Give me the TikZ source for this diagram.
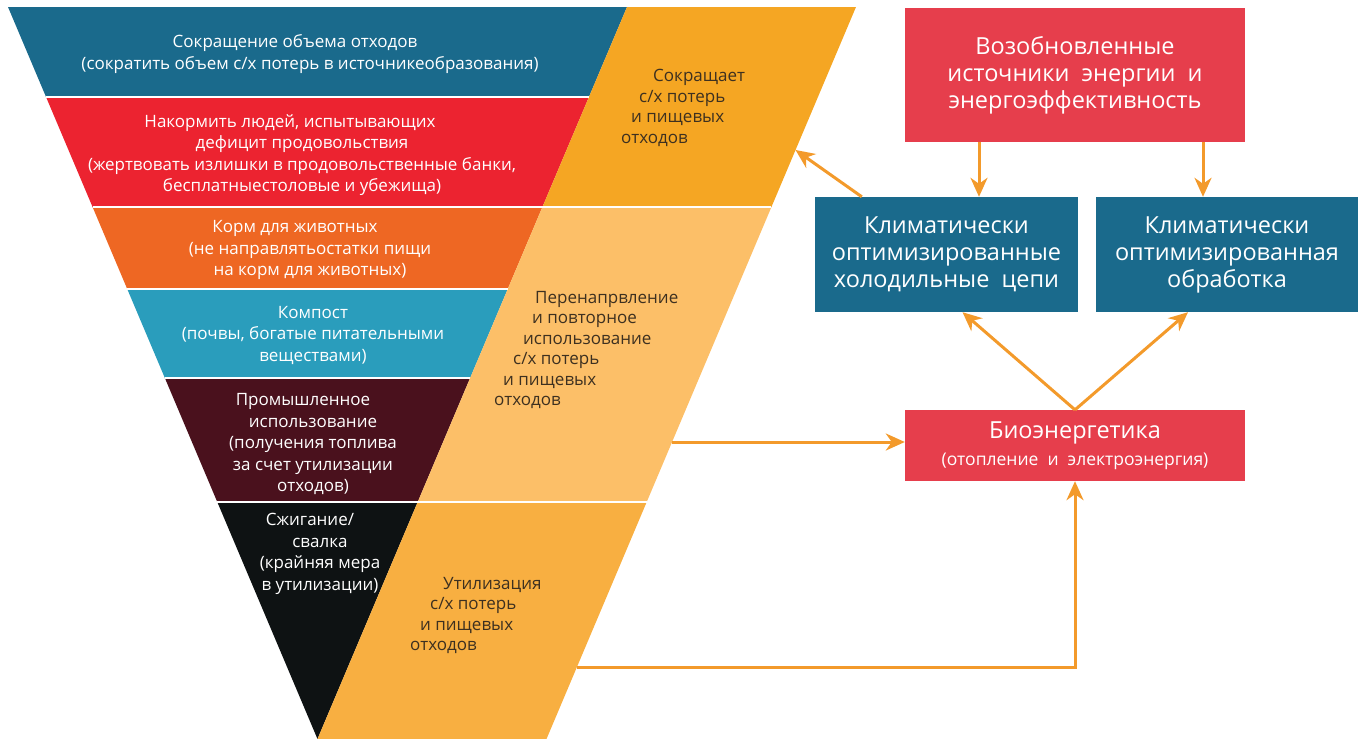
\documentclass[tikz,border=0pt]{standalone}
\usepackage{fontspec}
\setmainfont{Open Sans}
\usetikzlibrary{arrows.meta}
\definecolor{bandA}{HTML}{1A6A8C}
\definecolor{bandB}{HTML}{EC2330}
\definecolor{bandC}{HTML}{EE6723}
\definecolor{bandD}{HTML}{2A9DBC}
\definecolor{bandE}{HTML}{4A111D}
\definecolor{bandF}{HTML}{0E1213}
\definecolor{orA}{HTML}{F5A623}
\definecolor{orB}{HTML}{FCBF68}
\definecolor{orC}{HTML}{F8AF41}
\definecolor{sidetext}{HTML}{3D3020}
\definecolor{boxred}{HTML}{E63E4C}
\definecolor{boxblue}{HTML}{1A6A8C}
\definecolor{arrowc}{HTML}{F39A2B}
\tikzset{
  bandtext/.style={text=white, align=center, inner sep=0pt, font=\fontsize{17}{21.5}\selectfont},
  sidetxt/.style={text=sidetext, align=left, anchor=north west, inner sep=0pt, font=\fontsize{17}{20.5}\selectfont},
  bigbox/.style={rectangle, text=white, align=center, inner sep=0pt, font=\fontsize{23.5}{27}\selectfont},
  arr/.style={draw=arrowc, line width=3pt, -{Stealth[length=19pt,width=17pt,inset=6pt]}}
}
\begin{document}
\begin{tikzpicture}[x=1pt,y=-1pt]
\useasboundingbox (0,0) rectangle (1358,739);
\pgfmathsetmacro\cx{317.5}
\pgfmathsetmacro\sl{0.4228}
% funnel bands
\foreach \yt/\yb/\col in {7/97/bandA,97/207/bandB,207/289/bandC,289/378/bandD,378/502/bandE,502/739/bandF}{
  \pgfmathsetmacro\wt{\sl*(739-\yt)}
  \pgfmathsetmacro\wb{\sl*(739-\yb)}
  \fill[\col] (\cx-\wt,\yt) -- (\cx+\wt,\yt) -- (\cx+\wb,\yb) -- (\cx-\wb,\yb) -- cycle;
}
% slanted strips
\foreach \yt/\yb/\col in {7/207/orA,207/502/orB,502/739/orC}{
  \pgfmathsetmacro\wt{\sl*(739-\yt)}
  \pgfmathsetmacro\wb{\sl*(739-\yb)}
  \fill[\col] (\cx+\wt,\yt) -- (\cx+\wt+229,\yt) -- (\cx+\wb+229,\yb) -- (\cx+\wb,\yb) -- cycle;
}
\foreach \y/\ext in {97/0,207/229,289/0,378/0,502/229}{
  \pgfmathsetmacro\w{\sl*(739-\y)}
  \draw[white, line width=2pt] (\cx-\w,\y) -- (\cx+\w+\ext,\y);
}
% texts in the funnel
\node[bandtext] (waste) at (310,54) {Сокращение объема отходов\hspace*{30pt}\\(сократить объем с/х потерь в источникеобразования)};
\node[bandtext] (feed) at (302,155) {Накормить людей, испытывающих\hspace*{24pt}\\дефицит продовольствия\hspace*{12pt}\\(жертвовать излишки в продовольственные банки,\\бесплатныестоловые и убежища)};
\node[bandtext] (animals) at (310,250) {Корм для животных\hspace*{30pt}\\(не направлятьостатки пищи\\на корм для животных)};
\node[bandtext] (compost) at (313,335) {Компост\\(почвы, богатые питательными\\веществами)};
\node[bandtext] (industry) at (313,444) {Промышленное\hspace*{20pt}\\использование\hspace*{12pt}\\(получения топлива\\за счет утилизации\\отходов)};
\node[bandtext] (landfill) at (320,554) {Сжигание/\hspace*{20pt}\\свалка\\(крайняя мера\\в утилизации)};
% texts in the strips
\node[sidetxt] (reduce) at (621,69) {\hspace*{32pt}Сокращает\\\hspace*{18pt}с/х потерь\\\hspace*{10pt}и пищевых\\отходов};
\node[sidetxt] (reuse) at (494,291) {\hspace*{41pt}Перенапрвление\\\hspace*{38pt}и повторное\\\hspace*{29pt}использование\\\hspace*{19pt}с/х потерь\\\hspace*{9pt}и пищевых\\отходов};
\node[sidetxt] (dispose) at (410,577) {\hspace*{33pt}Утилизация\\\hspace*{20pt}с/х потерь\\\hspace*{10pt}и пищевых\\отходов};
% boxes on the right
\node[bigbox, fill=boxred, minimum width=340pt, minimum height=134pt] (renew) at (1075,75) {Возобновленные\\источники\ \ энергии\ \ и\\энергоэффективность};
\node[bigbox, fill=boxblue, minimum width=263pt, minimum height=115pt] (cold) at (946.5,254.5) {Климатически\\оптимизированные\\холодильные\ \ цепи};
\node[bigbox, fill=boxblue, minimum width=262pt, minimum height=115pt] (proc) at (1227,254.5) {Климатически\\оптимизированная\\обработка};
\node[bigbox, fill=boxred, minimum width=340pt, minimum height=71pt, font=\fontsize{23.5}{27}\selectfont] (bio) at (1075,445.5) {Биоэнергетика\\{\fontsize{17.5}{19}\selectfont(отопление\ \ и\ \ электроэнергия)}};
% arrows
\coordinate (oA) at ({\cx+\sl*(739-150)+229},150);
\coordinate (oB) at ({\cx+\sl*(739-442)+229},442);
\coordinate (oC) at ({\cx+\sl*(739-667)+229},667);
\draw[arr] ([xshift=-96pt]renew.south) -- ([xshift=-96pt]renew.south |- cold.north);
\draw[arr] ([xshift=128pt]renew.south) -- ([xshift=128pt]renew.south |- proc.north);
\draw[arr] ([xshift=47pt]cold.north west) -- (oA);
\draw[arr] (bio.north) -- ([xshift=16pt]cold.south);
\draw[arr] (bio.north) -- ([xshift=-39pt]proc.south);
\draw[arr] (oB) -- (oB -| bio.west);
\draw[arr] (oC) -| (bio.south);
\end{tikzpicture}
\end{document}
